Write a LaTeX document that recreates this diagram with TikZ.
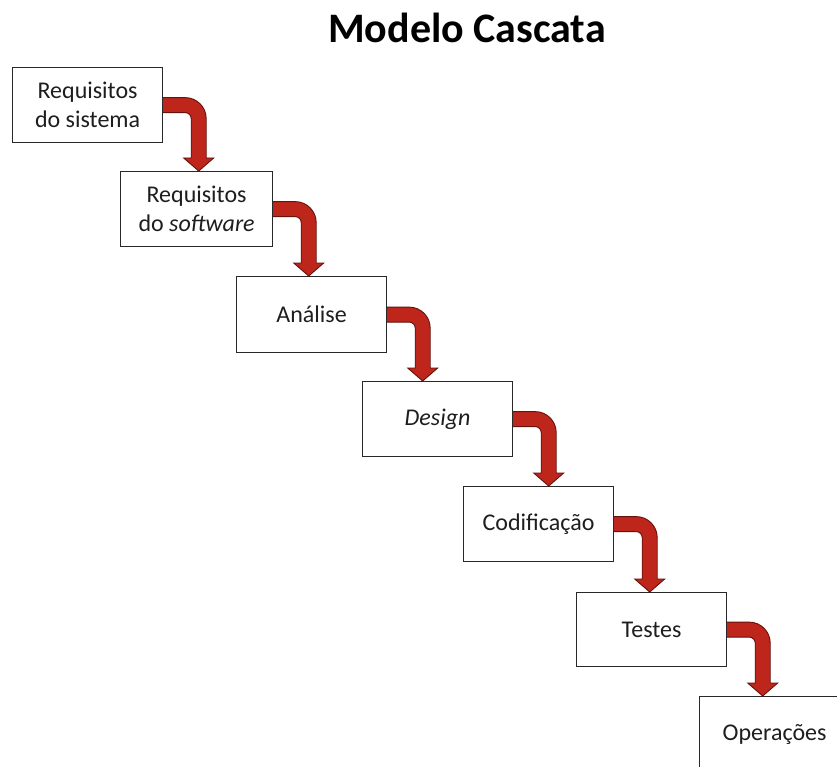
\documentclass[tikz,border=0pt]{standalone}
\usepackage{fontspec}
\setmainfont{Carlito}
\usetikzlibrary{calc,backgrounds}
\definecolor{flowfill}{RGB}{190,38,28}
\definecolor{flowline}{RGB}{100,18,12}
\definecolor{boxline}{RGB}{40,40,40}
\definecolor{txt}{RGB}{30,30,30}
\tikzset{
  phase/.style={draw=boxline, line width=1.2pt, fill=white, anchor=north west,
    minimum width=150pt, minimum height=75pt, inner sep=0pt, align=center,
    text=txt, font=\fontsize{24}{29}\selectfont},
  flowarrow/.style={fill=flowfill, draw=flowline, line width=0.9pt, line join=miter},
}
% bent arrow from the right side of one phase down onto the top of the next
\newcommand\stepflow[2]{%
  \path[flowarrow] let \p1=(#1.east), \p2=(#2.north) in
    (\x1-2pt,\y1+7.5pt) -- (\x1+22pt,\y1+7.5pt)
    arc[start angle=90,end angle=0,radius=21pt]
    -- (\x1+43pt,\y2+13pt) -- (\x1+50.5pt,\y2+13pt) -- (\x1+35.5pt,\y2)
    -- (\x1+20.5pt,\y2+13pt) -- (\x1+28pt,\y2+13pt) -- (\x1+28pt,\y1-13.5pt)
    arc[start angle=0,end angle=90,radius=6pt]
    -- (\x1-2pt,\y1-7.5pt) -- cycle;}
\begin{document}
\begin{tikzpicture}[x=1pt,y=1pt]
  \useasboundingbox (0,0) rectangle (837,-767);
  \clip (0,0) rectangle (837,-767);
  \node[font=\fontsize{42}{50}\selectfont\bfseries, text=black] (title) at (467,-28) {Modelo Cascata};
  \node[phase] (rs) at (12,-67) {Requisitos\\do sistema};
  \node[phase, minimum width=152pt] (rsw) at (120,-171) {Requisitos\\do \textit{software}};
  \node[phase, minimum height=76pt] (an) at (236,-276) {Análise};
  \node[phase] (ds) at (362,-381) {\textit{Design}};
  \node[phase] (cod) at (463,-486) {Codificação};
  \node[phase, minimum height=74pt] (tst) at (576,-592) {Testes};
  \node[phase] (op) at (699,-696) {Operações};
  \begin{scope}[on background layer]
    \fill[white] (0,0) rectangle (837,-767);
    \stepflow{rs}{rsw}
    \stepflow{rsw}{an}
    \stepflow{an}{ds}
    \stepflow{ds}{cod}
    \stepflow{cod}{tst}
    \stepflow{tst}{op}
  \end{scope}
\end{tikzpicture}
\end{document}
